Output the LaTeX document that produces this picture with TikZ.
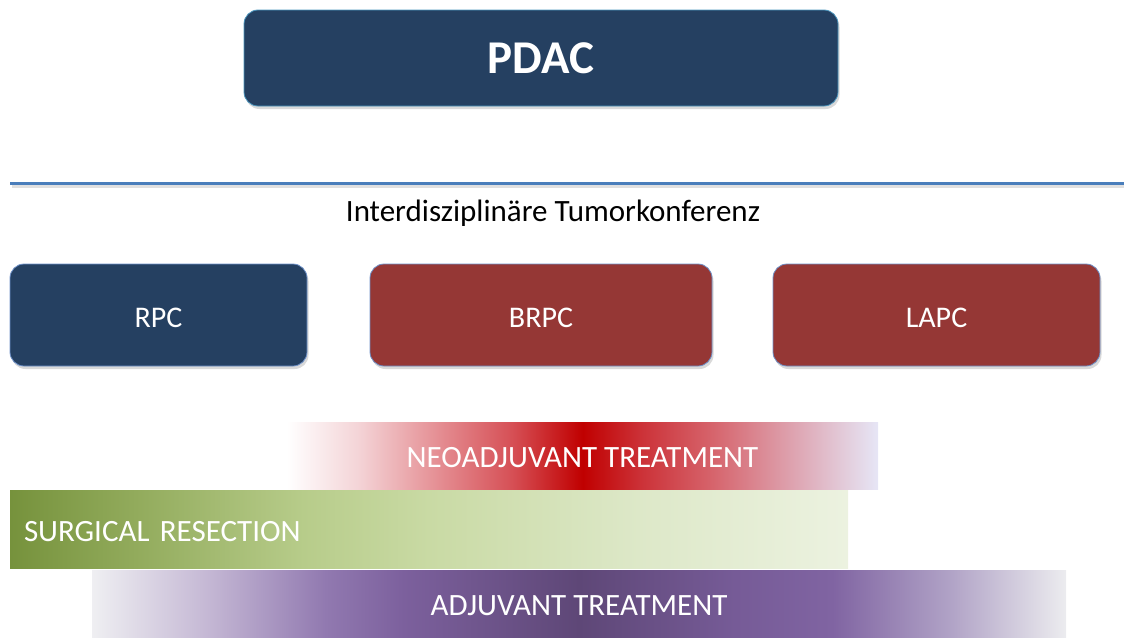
\documentclass[tikz,border=0pt]{standalone}
\usepackage{fontspec}
\setmainfont{Carlito}
\usetikzlibrary{shadows}
\definecolor{navy}{RGB}{37,64,97}
\definecolor{boxred}{RGB}{149,55,53}
\definecolor{navyedge}{RGB}{75,150,190}
\definecolor{boxedge}{RGB}{110,145,200}
\definecolor{rulecol}{RGB}{74,126,187}
% neoadjuvant: t -> 25+50t
\pgfdeclarehorizontalshading{neoshade}{100bp}{
 color(0bp)=(white); color(25bp)=(white);
 color(31bp)=(rgb,255:red,244;green,212;blue,215);
 color(38bp)=(rgb,255:red,228;green,140;blue,145);
 color(44bp)=(rgb,255:red,214;green,80;blue,86);
 color(50bp)=(rgb,255:red,192;green,0;blue,0);
 color(55bp)=(rgb,255:red,204;green,50;blue,56);
 color(61bp)=(rgb,255:red,214;green,100;blue,108);
 color(68bp)=(rgb,255:red,222;green,165;blue,178);
 color(75bp)=(rgb,255:red,230;green,230;blue,246);
 color(100bp)=(rgb,255:red,230;green,230;blue,246)}
\pgfdeclarehorizontalshading{surgshade}{100bp}{
 color(0bp)=(rgb,255:red,118;green,146;blue,60);
 color(25bp)=(rgb,255:red,118;green,146;blue,60);
 color(32.5bp)=(rgb,255:red,146;green,171;blue,92);
 color(42.5bp)=(rgb,255:red,183;green,204;blue,138);
 color(50bp)=(rgb,255:red,201;green,218;blue,164);
 color(62.5bp)=(rgb,255:red,221;green,232;blue,200);
 color(75bp)=(rgb,255:red,236;green,242;blue,224);
 color(100bp)=(rgb,255:red,236;green,242;blue,224)}
\pgfdeclarehorizontalshading{adjshade}{100bp}{
 color(0bp)=(rgb,255:red,239;green,239;blue,242);
 color(25bp)=(rgb,255:red,239;green,239;blue,242);
 color(31bp)=(rgb,255:red,196;green,183;blue,212);
 color(37bp)=(rgb,255:red,145;green,121;blue,176);
 color(41bp)=(rgb,255:red,124;green,96;blue,157);
 color(50bp)=(rgb,255:red,94;green,71;blue,119);
 color(58bp)=(rgb,255:red,118;green,91;blue,151);
 color(63bp)=(rgb,255:red,128;green,100;blue,162);
 color(69bp)=(rgb,255:red,176;green,162;blue,198);
 color(75bp)=(rgb,255:red,236;green,236;blue,239);
 color(100bp)=(rgb,255:red,236;green,236;blue,239)}
\begin{document}
\begin{tikzpicture}[x=1pt,y=-1pt,
  topbox/.style={draw=navyedge, line width=0.8pt, fill=navy, rounded corners=14pt,
    text=white, font=\fontsize{47}{50}\selectfont\bfseries, inner sep=0pt,
    drop shadow={shadow xshift=1.5pt, shadow yshift=-3pt, opacity=0.3}},
  classbox/.style={draw=boxedge, line width=0.8pt, rounded corners=14pt, text=white,
    font=\fontsize{30}{34}\selectfont, inner sep=0pt, minimum height=102pt,
    text height=25pt, text depth=0pt,
    drop shadow={shadow xshift=1.5pt, shadow yshift=-3pt, opacity=0.3}},
  bar/.style={inner sep=0pt, outer sep=0pt, text=white, font=\fontsize{31}{35}\selectfont,
    text height=24pt, text depth=0pt}]
\useasboundingbox (0,0) rectangle (1124,637);
% title box
\node[topbox, minimum width=594pt, minimum height=96pt] (pdac) at (541,58) {PDAC};
% rule
\coordinate (l1) at (10,183);
\coordinate (l2) at (1124,183);
\coordinate (s1) at (12,186.5);
\coordinate (s2) at (1124,186.5);
\draw[line width=3pt, black, opacity=0.12] (s1) -- (s2);
\draw[line width=3pt, rulecol] (l1) -- (l2);
\node[font=\fontsize{31}{35}\selectfont, inner sep=0pt] (conf) at (553,213) {Interdisziplinäre Tumorkonferenz};
% class boxes
\node[classbox, fill=navy, minimum width=297pt] (rpc) at (158.5,315) {RPC};
\node[classbox, fill=boxred, minimum width=342pt] (brpc) at (541,315) {BRPC};
\node[classbox, fill=boxred, minimum width=327pt] (lapc) at (936.5,315) {LAPC};
% bars
\node[bar, shading=neoshade, minimum width=591pt, minimum height=67pt] (neo) at (582.5,455.5) {NEOADJUVANT TREATMENT};
\node[bar, shading=surgshade, minimum width=838pt, minimum height=78pt, text width=810pt, align=left] (surg) at (429,529) {SURGICAL RESECTION};
\node[bar, shading=adjshade, minimum width=974pt, minimum height=67pt] (adj) at (579,603.5) {ADJUVANT TREATMENT};
\end{tikzpicture}
\end{document}
